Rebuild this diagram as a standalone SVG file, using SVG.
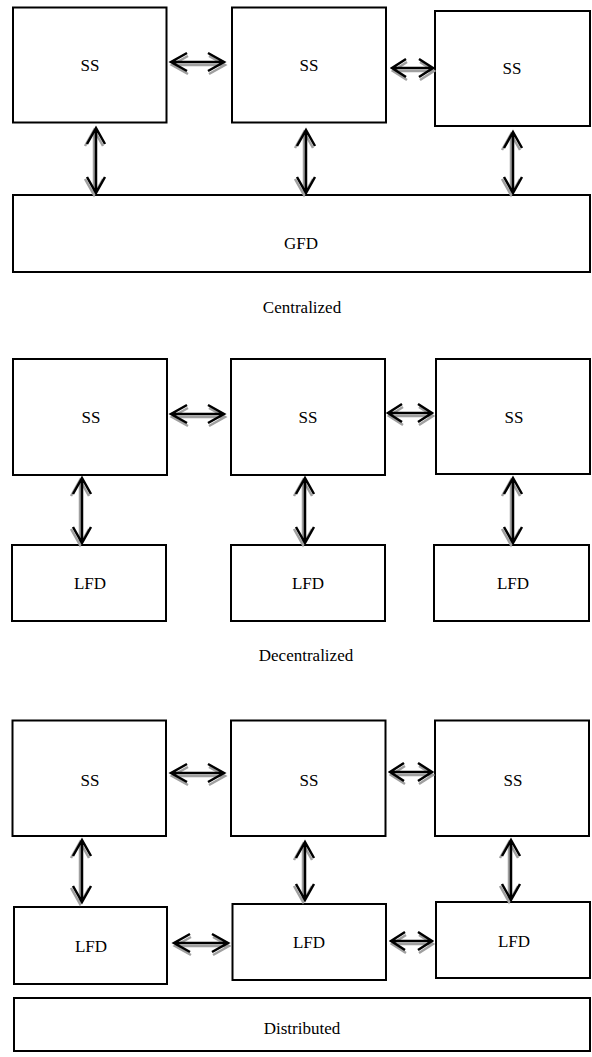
<svg xmlns="http://www.w3.org/2000/svg" width="592" height="1057" viewBox="0 0 592 1057">
<style>
.box{fill:#fff;stroke:#000;stroke-width:2}
.t{font-family:"Liberation Serif","Times New Roman",serif;font-size:17px;fill:#000;text-anchor:middle;dominant-baseline:central}
.ar{fill:none;stroke:#000;stroke-width:2.5;stroke-linejoin:miter}
.sh{fill:none;stroke:#a0a0a0;stroke-width:2.5;stroke-linejoin:miter}
</style>
<rect width="592" height="1057" fill="#fff"/>
<g id="centralized">
<g id="c-ss1"><rect class="box" x="13" y="7.5" width="153.5" height="115"/><text class="t" x="90" y="65">SS</text></g>
<g id="c-ss2"><rect class="box" x="232" y="7.5" width="154" height="115"/><text class="t" x="309" y="65">SS</text></g>
<g id="c-ss3"><rect class="box" x="435" y="11" width="155" height="115"/><text class="t" x="512" y="68">SS</text></g>
<g id="c-gfd"><rect class="box" x="13" y="195" width="577" height="77"/><text class="t" x="301" y="243">GFD</text></g>
<text class="t" x="302" y="307">Centralized</text>
</g>
<g id="decentralized">
<g id="d-ss1"><rect class="box" x="13" y="359" width="154" height="116"/><text class="t" x="91" y="417">SS</text></g>
<g id="d-ss2"><rect class="box" x="231" y="359" width="154" height="116"/><text class="t" x="308" y="417">SS</text></g>
<g id="d-ss3"><rect class="box" x="436" y="359" width="154" height="115"/><text class="t" x="514" y="417">SS</text></g>
<g id="d-lfd1"><rect class="box" x="12" y="545" width="154" height="76"/><text class="t" x="90" y="583">LFD</text></g>
<g id="d-lfd2"><rect class="box" x="231" y="545" width="154" height="76"/><text class="t" x="308" y="583">LFD</text></g>
<g id="d-lfd3"><rect class="box" x="434" y="545" width="155" height="76"/><text class="t" x="513" y="583">LFD</text></g>
<text class="t" x="306" y="655">Decentralized</text>
</g>
<g id="distributed">
<g id="s-ss1"><rect class="box" x="12.5" y="720.5" width="153.5" height="115.5"/><text class="t" x="90" y="780">SS</text></g>
<g id="s-ss2"><rect class="box" x="231" y="720.5" width="154.5" height="115.5"/><text class="t" x="309" y="780">SS</text></g>
<g id="s-ss3"><rect class="box" x="435" y="720.5" width="154" height="115.5"/><text class="t" x="513" y="780">SS</text></g>
<g id="s-lfd1"><rect class="box" x="14" y="907" width="153" height="77"/><text class="t" x="91" y="946">LFD</text></g>
<g id="s-lfd2"><rect class="box" x="232.5" y="904" width="153.5" height="76"/><text class="t" x="309" y="942">LFD</text></g>
<g id="s-lfd3"><rect class="box" x="436" y="902" width="154" height="76"/><text class="t" x="514" y="941">LFD</text></g>
<g id="s-label"><rect class="box" x="14" y="998" width="576" height="53"/><text class="t" x="302" y="1028">Distributed</text></g>
</g>
<g id="connectors">
<g transform="translate(1,3)" class="sh">
<path d="M171 62H224M187 53L171 62L187 71M208 53L224 62L208 71"/>
<path d="M392 68H433M406 59L392 68L406 77M419 59L433 68L419 77"/>
<path d="M171 414H224M187 405L171 414L187 423M208 405L224 414L208 423"/>
<path d="M388 413H432M402 404L388 413L402 422M418 404L432 413L418 422"/>
<path d="M171 773H224M187 764L171 773L187 782M208 764L224 773L208 782"/>
<path d="M390 772H432M404 763L390 772L404 781M418 763L432 772L418 781"/>
<path d="M174 943H228M190 934L174 943L190 952M212 934L228 943L212 952"/>
<path d="M391 941H432M405 932L391 941L405 950M418 932L432 941L418 950"/>
</g>
<g transform="translate(-2,2)" class="sh">
<path d="M96 128V193M87 144L96 128L105 144M87 177L96 193L105 177"/>
<path d="M306 130V193M297 146L306 130L315 146M297 177L306 193L315 177"/>
<path d="M513 132V193M504 148L513 132L522 148M504 177L513 193L522 177"/>
<path d="M82 478V543M73 494L82 478L91 494M73 527L82 543L91 527"/>
<path d="M305 478V543M296 494L305 478L314 494M296 527L305 543L314 527"/>
<path d="M513 478V543M504 494L513 478L522 494M504 527L513 543L522 527"/>
<path d="M82 840V902M73 856L82 840L91 856M73 886L82 902L91 886"/>
<path d="M305 842V900M296 858L305 842L314 858M296 884L305 900L314 884"/>
<path d="M511 840V900M502 856L511 840L520 856M502 884L511 900L520 884"/>
</g>
<g class="ar">
<path d="M171 62H224M187 53L171 62L187 71M208 53L224 62L208 71"/>
<path d="M392 68H433M406 59L392 68L406 77M419 59L433 68L419 77"/>
<path d="M171 414H224M187 405L171 414L187 423M208 405L224 414L208 423"/>
<path d="M388 413H432M402 404L388 413L402 422M418 404L432 413L418 422"/>
<path d="M171 773H224M187 764L171 773L187 782M208 764L224 773L208 782"/>
<path d="M390 772H432M404 763L390 772L404 781M418 763L432 772L418 781"/>
<path d="M174 943H228M190 934L174 943L190 952M212 934L228 943L212 952"/>
<path d="M391 941H432M405 932L391 941L405 950M418 932L432 941L418 950"/>
<path d="M96 128V193M87 144L96 128L105 144M87 177L96 193L105 177"/>
<path d="M306 130V193M297 146L306 130L315 146M297 177L306 193L315 177"/>
<path d="M513 132V193M504 148L513 132L522 148M504 177L513 193L522 177"/>
<path d="M82 478V543M73 494L82 478L91 494M73 527L82 543L91 527"/>
<path d="M305 478V543M296 494L305 478L314 494M296 527L305 543L314 527"/>
<path d="M513 478V543M504 494L513 478L522 494M504 527L513 543L522 527"/>
<path d="M82 840V902M73 856L82 840L91 856M73 886L82 902L91 886"/>
<path d="M305 842V900M296 858L305 842L314 858M296 884L305 900L314 884"/>
<path d="M511 840V900M502 856L511 840L520 856M502 884L511 900L520 884"/>
</g>
</g>
</svg>
